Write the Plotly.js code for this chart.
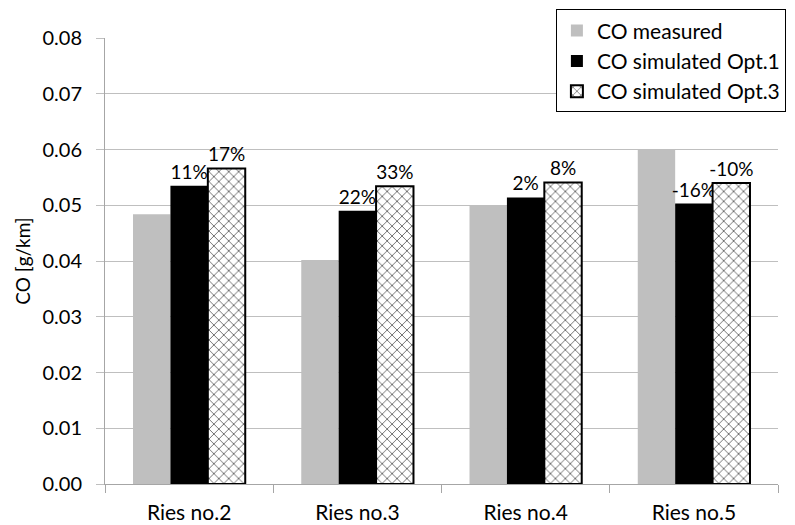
<!DOCTYPE html>
<html>
<head>
<meta charset="utf-8">
<script src="https://cdn.plot.ly/plotly-3.0.1.min.js"></script>
<style>html,body{margin:0;padding:0;background:#fff;}#chart{width:795px;height:525px;}</style>
</head>
<body>
<div id="chart"></div>
<script>
const categories = ["Ries no.2", "Ries no.3", "Ries no.4", "Ries no.5"];
const measured = [0.0484, 0.0402, 0.0500, 0.0601];
const simOpt1 = [0.0535, 0.0490, 0.0514, 0.0503];
const simOpt3 = [0.0566, 0.0534, 0.0541, 0.0540];
const opt1Labels = ["11%", "22%", "2%", "-16%"];
const opt3Labels = ["17%", "33%", "8%", "-10%"];
const yTicks = [0, 0.01, 0.02, 0.03, 0.04, 0.05, 0.06, 0.07, 0.08];

const FONT = "Lato, 'Open Sans', sans-serif";

const traces = [
  {
    type: "bar", name: "CO measured", x: categories, y: measured,
    marker: {color: "#bfbfbf"}
  },
  {
    type: "bar", name: "CO simulated Opt.1", x: categories, y: simOpt1,
    marker: {color: "#000000"},
    text: opt1Labels, textposition: "outside", cliponaxis: false, constraintext: "none",
    textfont: {family: FONT, size: 19, color: "#000"}
  },
  {
    type: "bar", name: "CO simulated Opt.3", x: categories, y: simOpt3,
    marker: {color: "#ffffff", line: {color: "#000", width: 2},
      pattern: {shape: "x", size: 7, solidity: 0.15, fgcolor: "#000", bgcolor: "#fff"}},
    text: opt3Labels, textposition: "outside", cliponaxis: false, constraintext: "none",
    textfont: {family: FONT, size: 19, color: "#000"}
  }
];

const layout = {
  width: 795, height: 525,
  margin: {l: 105, r: 17, t: 38, b: 41, autoexpand: false},
  paper_bgcolor: "#fff", plot_bgcolor: "#fff",
  font: {family: FONT, color: "#000"},
  barmode: "group", bargap: 0.333, bargroupgap: 0,
  showlegend: true,
  legend: {
    x: 0.67, y: 1.064, xanchor: "left", yanchor: "top",
    bgcolor: "#fff", bordercolor: "#000", borderwidth: 1,
    font: {family: FONT, size: 21, color: "#000"},
    tracegroupgap: 0, itemwidth: 30
  },
  xaxis: {
    type: "category", tickson: "boundaries", ticks: "outside", ticklen: 8,
    tickcolor: "#a6a6a6", showline: true, linecolor: "#a6a6a6", linewidth: 1,
    tickfont: {family: FONT, size: 21, color: "#000"}, showgrid: false,
    ticklabelstandoff: 10, fixedrange: true
  },
  yaxis: {
    range: [0, 0.08], tickvals: yTicks, tickformat: ".2f",
    ticks: "outside", ticklen: 8, tickcolor: "#bfbfbf",
    showline: true, linecolor: "#a6a6a6", linewidth: 1,
    showgrid: true, gridcolor: "#bfbfbf", gridwidth: 1, zeroline: false,
    tickfont: {family: FONT, size: 20, color: "#000"}, ticklabelstandoff: 10,
    title: {text: "CO [g/km]", font: {family: FONT, size: 19, color: "#000"}, standoff: 6},
    automargin: false
  }
};

Plotly.newPlot("chart", traces, layout, {displayModeBar: false, staticPlot: true});
</script>
</body>
</html>
